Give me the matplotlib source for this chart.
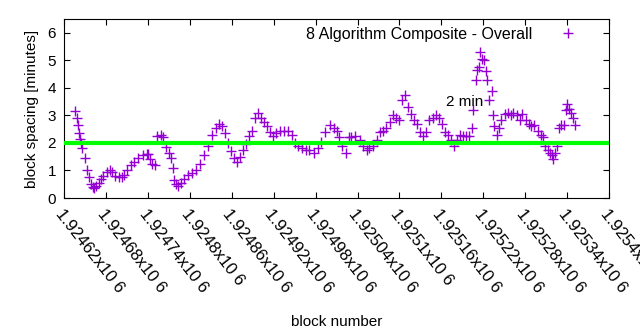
import matplotlib
matplotlib.use("Agg")
import matplotlib.pyplot as plt
from matplotlib.ticker import FixedLocator

plt.rcParams['font.family'] = ['Liberation Sans', 'DejaVu Sans']

# block number vs block spacing (minutes)
blocks = [
    1924636, 1924638, 1924639, 1924641, 1924642, 1924644, 1924646, 1924649, 1924652, 1924655,
    1924658, 1924661, 1924663, 1924666, 1924669, 1924672, 1924676, 1924681, 1924685, 1924689,
    1924693, 1924698, 1924702, 1924706, 1924710, 1924715, 1924720, 1924726, 1924732, 1924738,
    1924740, 1924743, 1924746, 1924750, 1924753, 1924758, 1924762, 1924766, 1924770, 1924773,
    1924775, 1924777, 1924780, 1924783, 1924787, 1924792, 1924797, 1924803, 1924809, 1924814,
    1924820, 1924826, 1924832, 1924837, 1924842, 1924846, 1924850, 1924854, 1924859, 1924863,
    1924867, 1924872, 1924876, 1924880, 1924884, 1924889, 1924893, 1924897, 1924901, 1924906,
    1924910, 1924914, 1924919, 1924923, 1924929, 1924934, 1924940, 1924946, 1924950, 1924954,
    1924960, 1924966, 1924971, 1924977, 1924983, 1924988, 1924994, 1925000, 1925006, 1925010,
    1925014, 1925018, 1925023, 1925027, 1925031, 1925037, 1925043, 1925048, 1925053, 1925057,
    1925062, 1925068, 1925072, 1925077, 1925081, 1925087, 1925091, 1925095, 1925100, 1925104,
    1925108, 1925112, 1925117, 1925121, 1925125, 1925129, 1925134, 1925138, 1925142, 1925148,
    1925152, 1925157, 1925161, 1925165, 1925169, 1925174, 1925178, 1925182, 1925186, 1925191,
    1925195, 1925199, 1925204, 1925206, 1925209, 1925211, 1925214, 1925216, 1925218, 1925221,
    1925224, 1925225, 1925228, 1925232, 1925234, 1925236, 1925239, 1925242, 1925246, 1925251,
    1925255, 1925259, 1925263, 1925268, 1925272, 1925276, 1925281, 1925285, 1925289, 1925293,
    1925298, 1925302, 1925306, 1925309, 1925312, 1925315, 1925318, 1925320, 1925323, 1925326,
    1925329, 1925332, 1925335, 1925338, 1925340, 1925343, 1925346, 1925349, 1925352,
]
spacing = [
    3.15, 2.9, 2.65, 2.35, 2.15, 2.0, 1.8, 1.45, 1.0, 0.75,
    0.5, 0.4, 0.35, 0.45, 0.55, 0.7, 0.8, 0.95, 1.0, 0.95,
    0.8, 0.75, 0.75, 0.85, 1.0, 1.2, 1.3, 1.45, 1.55, 1.6,
    1.6, 1.4, 1.25, 1.2, 2.25, 2.3, 2.2, 1.85, 1.65, 1.45,
    1.1, 0.65, 0.5, 0.45, 0.55, 0.7, 0.85, 0.9, 1.0, 1.25,
    1.55, 1.9, 2.3, 2.55, 2.7, 2.6, 2.35, 2.0, 1.7, 1.45,
    1.3, 1.5, 1.75, 1.95, 2.25, 2.45, 2.9, 3.1, 2.9, 2.75,
    2.6, 2.4, 2.25, 2.35, 2.45, 2.45, 2.45, 2.3, 2.0, 1.9,
    1.8, 1.75, 1.75, 1.65, 1.8, 2.05, 2.4, 2.65, 2.55, 2.45,
    2.2, 1.9, 1.65, 2.2, 2.2, 2.25, 2.1, 1.9, 1.75, 1.8,
    1.9, 2.1, 2.4, 2.45, 2.55, 2.75, 3.0, 2.9, 2.85, 3.55,
    3.75, 3.3, 3.05, 2.85, 2.7, 2.4, 2.25, 2.4, 2.85, 2.9,
    3.0, 2.9, 2.7, 2.4, 2.3, 2.1, 1.9, 2.1, 2.3, 2.25,
    2.25, 2.25, 2.55, 3.2, 4.3, 4.65, 4.75, 5.3, 5.05, 5.0,
    4.6, 4.3, 3.55, 3.9, 3.0, 2.6, 2.3, 2.55, 2.85, 3.05,
    3.1, 3.0, 3.1, 3.0, 2.85, 3.05, 2.85, 2.7, 2.6, 2.65,
    2.45, 2.3, 2.2, 1.9, 1.75, 1.65, 1.55, 1.4, 1.65, 1.9,
    2.55, 2.65, 2.65, 3.2, 3.4, 3.25, 3.1, 2.9, 2.65,
]

xtick_vals = [1924620 + 60 * i for i in range(14)]
xtick_labels = ['1.92462x10 6', '1.92468x10 6', '1.92474x10 6', '1.9248x10 6',
                '1.92486x10 6', '1.92492x10 6', '1.92498x10 6', '1.92504x10 6',
                '1.9251x10 6', '1.92516x10 6', '1.92522x10 6', '1.92528x10 6',
                '1.92534x10 6', '1.9254x10 6']
target = 2.0

fig = plt.figure(figsize=(6.4, 3.3), dpi=100)
ax = fig.add_axes([0.1005, 0.4, 0.851, 0.5424])

ax.plot(blocks, spacing, linestyle='none', marker='+', markersize=6.5, mew=1,
        color='#9400d3', label='8 Algorithm Composite - Overall', zorder=2)
ax.axhline(target, color='#00ff00', linewidth=3, zorder=3)
ax.text(1925166, 3.5, '2 min', fontsize=11, va='center', ha='left', zorder=4)

ax.set_xlim(xtick_vals[0], xtick_vals[-1])
ax.set_ylim(0, 6.5)
ax.xaxis.set_major_locator(FixedLocator(xtick_vals))
ax.set_xticklabels(xtick_labels, rotation=-52, ha='left', va='top',
                   rotation_mode='anchor', fontsize=12)
ax.set_yticks(range(7))
ax.tick_params(axis='y', labelsize=11)
ax.tick_params(direction='in', length=4, width=0.8, top=True, right=True, pad=6)

ax.set_xlabel('block number', fontsize=11, labelpad=14)
ax.set_ylabel('block spacing [minutes]', fontsize=11, labelpad=6)

ax.legend(loc='upper right', frameon=False, markerfirst=False, fontsize=11.5,
          handlelength=2.5, handletextpad=1.0, borderaxespad=0.3,
          bbox_to_anchor=(0.982, 1.02))

fig.savefig('out.png', dpi=100)
